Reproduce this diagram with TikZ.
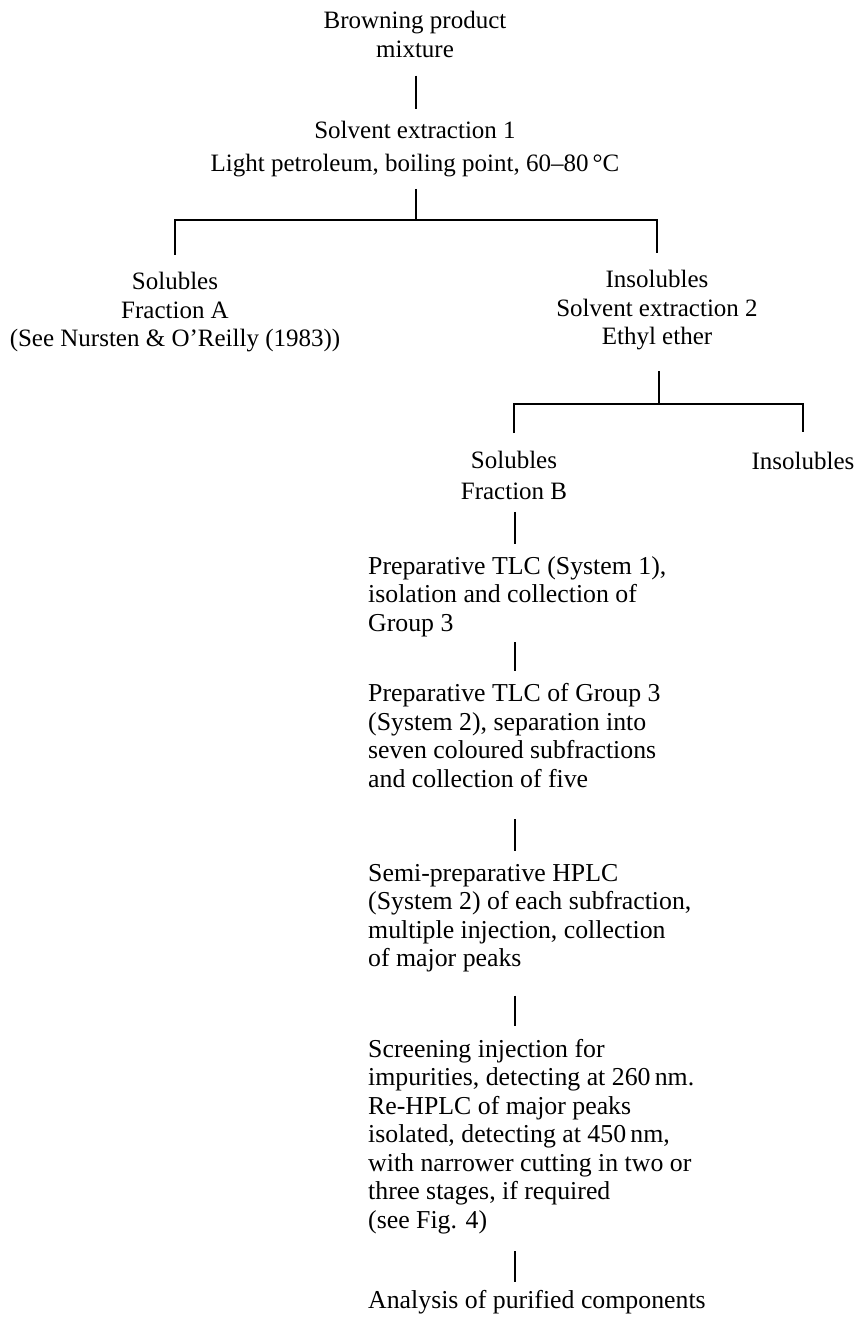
\documentclass[tikz,border=0pt]{standalone}
\usepackage{fontspec}
\setmainfont{Liberation Serif}
\usetikzlibrary{positioning}

\begin{document}
\begin{tikzpicture}[
			x=1pt, y=-1pt,
			txt/.style={inner sep=0pt, align=center, font=\fontsize{25}{28.5}\selectfont,
				execute at begin node=\strut, execute at end node=\strut},
			stagebox/.style={txt, anchor=west, align=left, font=\fontsize{25.8}{28.5}\selectfont},
			link/.style={line width=1.2pt}
		]
		\useasboundingbox (0,0) rectangle (857,1319);

		% first extraction
		\node[txt] (mix) at (415,38.5) {Browning product\\mixture};
		\node[txt] (ext1) at (415,150.5) {Solvent extraction 1\\[4.5pt]Light petroleum, boiling point, 60--80\,°C};
		\node[txt] (solA) at (175,314) {Solubles\\Fraction A\\(See Nursten \& O'Reilly (1983))};
		\node[txt] (insA) at (657,311.7) {Insolubles\\Solvent extraction 2\\Ethyl ether};

		% second extraction
		\node[txt] (solB) at (514,479.5) {Solubles\\[2.5pt]Fraction B};
		\node[txt] (insB) at (803,464) {Insolubles};

		% separation of fraction B
		\node[stagebox] (tlc1) at (368,598.3) {Preparative TLC (System 1),\\isolation and collection of\\Group 3};
		\node[stagebox] (tlc2) at (368,739.5) {Preparative TLC of Group 3\\(System 2), separation into\\seven coloured subfractions\\and collection of five};
		\node[stagebox] (hplc) at (368,919.5) {Semi-preparative HPLC\\(System 2) of each subfraction,\\multiple injection, collection\\of major peaks};
		\node[stagebox] (scr) at (368,1138) {Screening injection for\\impurities, detecting at 260\,nm.\\Re-HPLC of major peaks\\isolated, detecting at 450\,nm,\\with narrower cutting in two or\\three stages, if required\\(see Fig. 4)};
		\node[stagebox] (ana) at (368,1303) {Analysis of purified components};

		\coordinate (j1) at (416,220);
		\coordinate (j2) at (659,404);
		\coordinate (col) at (515,0);

		\draw[link, shorten <=9.7pt, shorten >=11.8pt] (mix.south -| j1) -- (ext1.north -| j1);
		\draw[link, shorten <=8.7pt] (ext1.south -| j1) -- (j1);
		\draw[link] ([yshift=17.8pt]solA.north) |- (j1) -| ([yshift=16.8pt]insA.north);
		\draw[link, shorten <=17.7pt] (insA.south -| j2) -- (j2);
		\draw[link] ([yshift=17.8pt]solB.north) |- (j2) -| ([yshift=17.8pt]insB.north);

		\draw[link, shorten <=3.7pt, shorten >=12.6pt] (solB.south -| col) -- (tlc1.north -| col);
		\draw[link, shorten <=1.9pt, shorten >=12.5pt] (tlc1.south -| col) -- (tlc2.north -| col);
		\draw[link, shorten <=23.5pt, shorten >=12.5pt] (tlc2.south -| col) -- (hplc.north -| col);
		\draw[link, shorten <=20.4pt, shorten >=13.3pt] (hplc.south -| col) -- (scr.north -| col);
		\draw[link, shorten <=14.2pt, shorten >=6.8pt] (scr.south -| col) -- (ana.north -| col);

	\end{tikzpicture}
\end{document}
